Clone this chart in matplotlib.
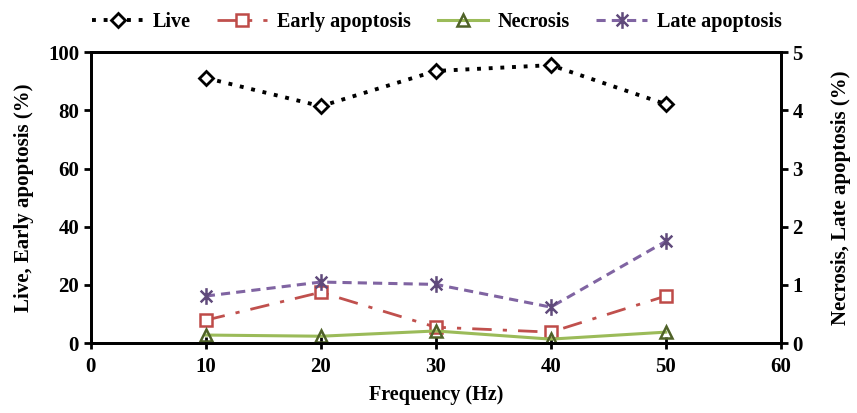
import matplotlib
matplotlib.use("Agg")
import matplotlib.pyplot as plt
from matplotlib.path import Path

plt.rcParams['font.family'] = ['Liberation Serif', 'DejaVu Serif']
plt.rcParams['font.weight'] = 'bold'

freq = [10, 20, 30, 40, 50]
live = [91.1, 81.4, 93.5, 95.5, 82.1]
early = [7.9, 17.5, 5.5, 3.8, 16.2]
necrosis = [0.14, 0.12, 0.21, 0.07, 0.19]
late = [0.81, 1.05, 1.01, 0.62, 1.75]

# excel style star: X with a vertical bar
star = Path([(-0.7, -0.7), (0.7, 0.7), (-0.7, 0.7), (0.7, -0.7), (0, -1), (0, 1)],
            [Path.MOVETO, Path.LINETO, Path.MOVETO, Path.LINETO, Path.MOVETO, Path.LINETO])

fig = plt.figure(figsize=(8.57, 4.13), dpi=100)
ax = fig.add_axes([0.106, 0.169, 0.805, 0.705])
ax2 = ax.twinx()

l1, = ax.plot(freq, live, color='black', linestyle=(0, (1, 2)), linewidth=2.8,
              marker='D', markersize=7, markerfacecolor='white', markeredgecolor='black',
              markeredgewidth=2, label='Live')
l2, = ax.plot(freq, early, color='#c0504d', linestyle=(0, (7, 4, 1.5, 4)), linewidth=2,
              marker='s', markersize=8, markerfacecolor='white', markeredgecolor='#be4b48',
              markeredgewidth=1.8, label='Early apoptosis')
l3, = ax2.plot(freq, necrosis, color='#9bbb59', linewidth=2.2,
               marker='^', markersize=8, markerfacecolor='none', markeredgecolor='#4f6228',
               markeredgewidth=1.8, label='Necrosis')
l4, = ax2.plot(freq, late, color='#8064a2', linestyle=(0, (3, 2)), linewidth=2.2,
               marker=star, markersize=12, markeredgecolor='#604a7b',
               markeredgewidth=1.8, label='Late apoptosis')

ax.set_xlim(0, 60)
ax.set_ylim(0, 100)
ax2.set_ylim(0, 5)
ax.set_xticks(range(0, 61, 10))
ax.set_yticks(range(0, 101, 20))
ax2.set_yticks(range(0, 6))

ax.set_xlabel('Frequency (Hz)', fontsize=14.5, fontweight='bold', labelpad=6)
ax.set_ylabel('Live, Early apoptosis (%)', fontsize=15, fontweight='bold', labelpad=10)
ax2.set_ylabel('Necrosis, Late apoptosis (%)', fontsize=15, fontweight='bold', labelpad=20)

for a in (ax, ax2):
    for s in a.spines.values():
        s.set_linewidth(2)
    a.tick_params(labelsize=15, width=2, length=5, direction='out')
ax.tick_params(axis='x', direction='inout', length=8, pad=6)

fig.legend(handles=[l1, l2, l3, l4], loc='upper center', bbox_to_anchor=(0.51, 1.015),
           ncol=4, frameon=False, fontsize=14.5, handlelength=2.5, handletextpad=0.5,
           columnspacing=1.3)

fig.savefig('out.png', dpi=100)
